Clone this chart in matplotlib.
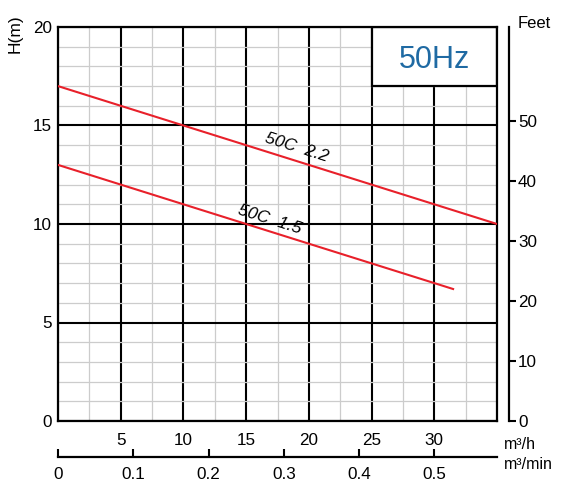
import matplotlib.pyplot as plt
from matplotlib.patches import Rectangle
import numpy as np

plt.rcParams['font.family'] = ['Liberation Sans', 'DejaVu Sans']

# -------------------------
# DATA
# -------------------------
flow_22 = [0, 5, 10, 15, 20, 25, 30, 35]
head_22 = [17, 16, 15, 14, 13, 12, 11, 10]

flow_15 = [0, 5, 10, 15, 20, 25, 30, 31.5]
head_15 = [13, 12, 11, 10, 9, 8, 7, 6.7]

x_ticks = [5, 10, 15, 20, 25, 30]
y_ticks = [0, 5, 10, 15, 20]
feet_ticks = [0, 10, 20, 30, 40, 50]
min_ticks = [0, 0.1, 0.2, 0.3, 0.4, 0.5]
min_labels = ["0", "0.1", "0.2", "0.3", "0.4", "0.5"]

M_TO_FT = 3.28084
FS = 12.3

# -------------------------
# FIGURE
# -------------------------
fig = plt.figure(figsize=(5.83, 4.83), dpi=100)
ax = fig.add_axes([58/583, 62/483, 439/583, 394/483])

ax.set_xlim(0, 35)
ax.set_ylim(0, 20)

ax.set_xticks(x_ticks)
ax.set_xticks(np.arange(0, 35.1, 2.5), minor=True)
ax.set_yticks(y_ticks)
ax.set_yticks(np.arange(0, 20.1, 1), minor=True)

ax.grid(which='minor', color='#cccccc', lw=0.9, zorder=0)
ax.grid(which='major', color='black', lw=1.5, zorder=1)
ax.set_axisbelow(True)

ax.tick_params(which='both', length=0)
ax.tick_params(axis='x', pad=8.5, labelsize=FS)
ax.tick_params(axis='y', pad=4.5, labelsize=FS)
for s in ax.spines.values():
    s.set_linewidth(1.6)

# curves
ax.plot(flow_22, head_22, color='#e8202a', lw=1.5, zorder=3)
ax.plot(flow_15, head_15, color='#e8202a', lw=1.5, zorder=3)

ax.text(19.0, 13.9, "50C  2.2", rotation=-17.5, ha='center', va='center',
        fontsize=12.5, style='italic', zorder=4)
ax.text(16.9, 10.2, "50C  1.5", rotation=-17.5, ha='center', va='center',
        fontsize=12.5, style='italic', zorder=4)

# 50Hz box
ax.add_patch(Rectangle((25, 17), 10, 3, facecolor='white', edgecolor='black',
                       lw=1.6, zorder=2.5))
ax.text(30, 18.35, "50Hz", color='#1f6aa3', fontsize=22, ha='center',
        va='center', zorder=4)

# feet axis
axf = ax.twinx()
axf.set_ylim(0, 20 * M_TO_FT)
axf.set_yticks(feet_ticks)
for k in ['top', 'left', 'bottom']:
    axf.spines[k].set_visible(False)
axf.spines['right'].set_position(('outward', 8.6))
axf.spines['right'].set_linewidth(1.6)
axf.tick_params(axis='y', direction='out', length=5, width=1.5,
                labelsize=FS, pad=1.5)

# m3/min axis
sec = ax.secondary_xaxis(-36/394, functions=(lambda q: q / 60, lambda q: q * 60))
sec.set_xticks(min_ticks)
sec.set_xticklabels(min_labels)
sec.tick_params(direction='in', length=6, width=1.5, labelsize=FS, pad=7)
sec.spines['bottom'].set_linewidth(1.6)

# labels
fig.text(15/583, 1 - 34/483, "H(m)", rotation=90, ha='center', va='center',
         fontsize=12.5)
fig.text(518/583, 1 - 23/483, "Feet", ha='left', va='center', fontsize=12)
fig.text(504/583, 1 - 449/483, "m³/h", ha='left', va='baseline', fontsize=11.5)
fig.text(504/583, 1 - 469/483, "m³/min", ha='left', va='baseline', fontsize=11.5)

plt.savefig("out.png", dpi=100)
